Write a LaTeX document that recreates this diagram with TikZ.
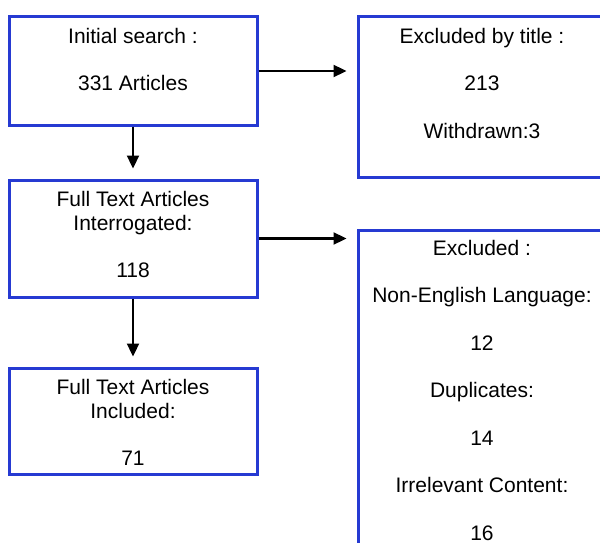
\documentclass[tikz,border=0pt]{standalone}
\usepackage{fontspec}
\setmainfont{Liberation Sans}
\usetikzlibrary{arrows.meta}

\definecolor{boxblue}{RGB}{38,58,210}

\tikzset{
  flowbox/.style={draw=boxblue, line width=3pt, fill=white, rectangle,
    inner sep=0pt, minimum width=#1},
  flowbox/.default=248pt,
  boxtext/.style={anchor=north, align=center, inner sep=0pt,
    font=\fontsize{21}{23.75}\selectfont},
  flowarrow/.style={-{Triangle[length=13pt,width=12pt]}, line width=2.3pt,
    shorten >=10pt}
}

\begin{document}
\begin{tikzpicture}[x=1pt, y=-1pt]
  \path[use as bounding box, clip] (0,0) rectangle (600,543);

  % left column
  \node[flowbox, minimum height=108pt] (search) at (133,71) {};
  \node[flowbox, minimum height=117pt] (full) at (133,238.5) {};
  \node[flowbox, minimum height=106pt] (incl) at (133,421) {};

  % right column (runs past the right edge)
  \node[flowbox=252pt, minimum height=330pt] (excl) at (484,395) {};
  \node[flowbox=252pt, minimum height=160pt] (title) at (484,97) {};

  % box texts
  \node[boxtext] (searcht) at (133,28) {Initial search :\\[23.75pt]331 Articles};
  \node[boxtext] (fullt) at (133,191) {Full Text Articles\\Interrogated:\\[23.75pt]118};
  \node[boxtext] (inclt) at (133,379) {Full Text Articles\\Included:\\[23.75pt]71};
  \node[boxtext] (titlet) at (482,28) {Excluded by title :\\[23.75pt]213\\[23.75pt]Withdrawn:3};
  \node[boxtext] (exclt) at (482,240) {Excluded :\\[23.75pt]Non-English Language:\\[23.75pt]12\\[23.75pt]Duplicates:\\[23.75pt]14\\[23.75pt]Irrelevant Content:\\[23.75pt]16};

  % connectors
  \draw[flowarrow] (search.south) -- (full.north);
  \draw[flowarrow] (full.south) -- (incl.north);
  \draw[flowarrow] (search.east) -- (search.east -| title.west);
  \draw[flowarrow] (full.east) -- (full.east -| excl.west);
\end{tikzpicture}
\end{document}
